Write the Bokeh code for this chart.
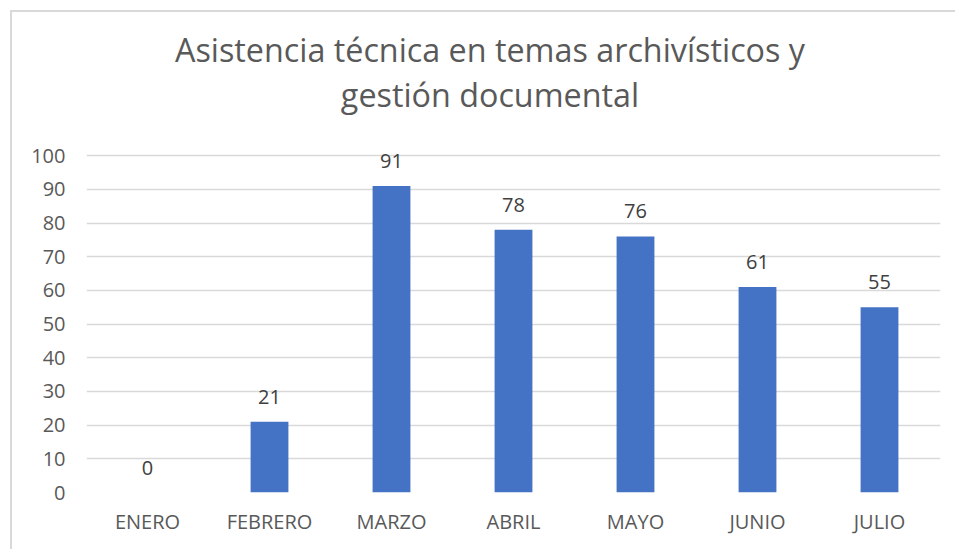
from bokeh.plotting import figure
from bokeh.models import ColumnDataSource, FactorRange, Range1d, FixedTicker, LabelSet, Div
from bokeh.layouts import column
from bokeh.core.properties import value
from bokeh.embed import file_html
from bokeh.resources import INLINE

months = ["ENERO", "FEBRERO", "MARZO", "ABRIL", "MAYO", "JUNIO", "JULIO"]
values = [0, 21, 91, 78, 76, 61, 55]
y_ticks = [0, 10, 20, 30, 40, 50, 60, 70, 80, 90, 100]
title_lines = ["Asistencia técnica en temas archivísticos y", "gestión documental"]

FONT = "Open Sans"
GRAY = "#595959"
W = 943

src = ColumnDataSource(dict(x=months, top=values, label=[str(v) for v in values]))

line_style = ("font-family:'Open Sans';font-size:32.3px;color:%s;height:44.5px;"
              "line-height:44.5px;white-space:nowrap;text-align:center;") % GRAY
title_html = ('<div style="width:%dpx;box-sizing:border-box;padding-top:15px;padding-left:13px;">'
              % W + "".join('<div style="%s">%s</div>' % (line_style, t) for t in title_lines)
              + "</div>")
title = Div(text=title_html, width=W, height=104, margin=0)

p = figure(x_range=FactorRange(*months), y_range=Range1d(0, 103.9), title=None,
           width=W, height=433, output_backend="svg", toolbar_location=None,
           min_border_left=74, min_border_right=15, min_border_top=26, min_border_bottom=57)
p.margin = 0

p.vbar(x="x", top="top", width=0.31, source=src, color="#4472c4", line_color=None)

labels = LabelSet(x="x", y="top", text="label", source=src, text_align="center",
                  text_baseline="middle", y_offset=25, text_font=value(FONT),
                  text_font_size=value("20px"), text_color=value("#404040"))
p.add_layout(labels)

p.outline_line_color = None
p.xgrid.grid_line_color = None
p.ygrid.grid_line_color = "#d9d9d9"
p.ygrid.grid_line_width = 1.5
p.yaxis.ticker = FixedTicker(ticks=y_ticks)

for ax in (p.xaxis, p.yaxis):
    ax.axis_line_color = None
    ax.major_tick_line_color = None
    ax.minor_tick_line_color = None
    ax.major_tick_out = 0
    ax.major_tick_in = 0
    ax.minor_tick_out = 0
    ax.major_label_text_font = FONT
    ax.major_label_text_font_size = "20px"
    ax.major_label_text_color = GRAY
p.yaxis.major_label_standoff = 21
p.xaxis.major_label_standoff = 15

layout = column(title, p, spacing=0)
layout.styles = {"margin-left": "10px", "margin-top": "10px",
                 "border-left": "2px solid #d9d9d9", "border-top": "2px solid #d9d9d9",
                 "border-right": "none", "border-bottom": "none",
                 "outline": "none", "box-shadow": "none"}

open("out.html", "w").write(file_html(layout, INLINE))
